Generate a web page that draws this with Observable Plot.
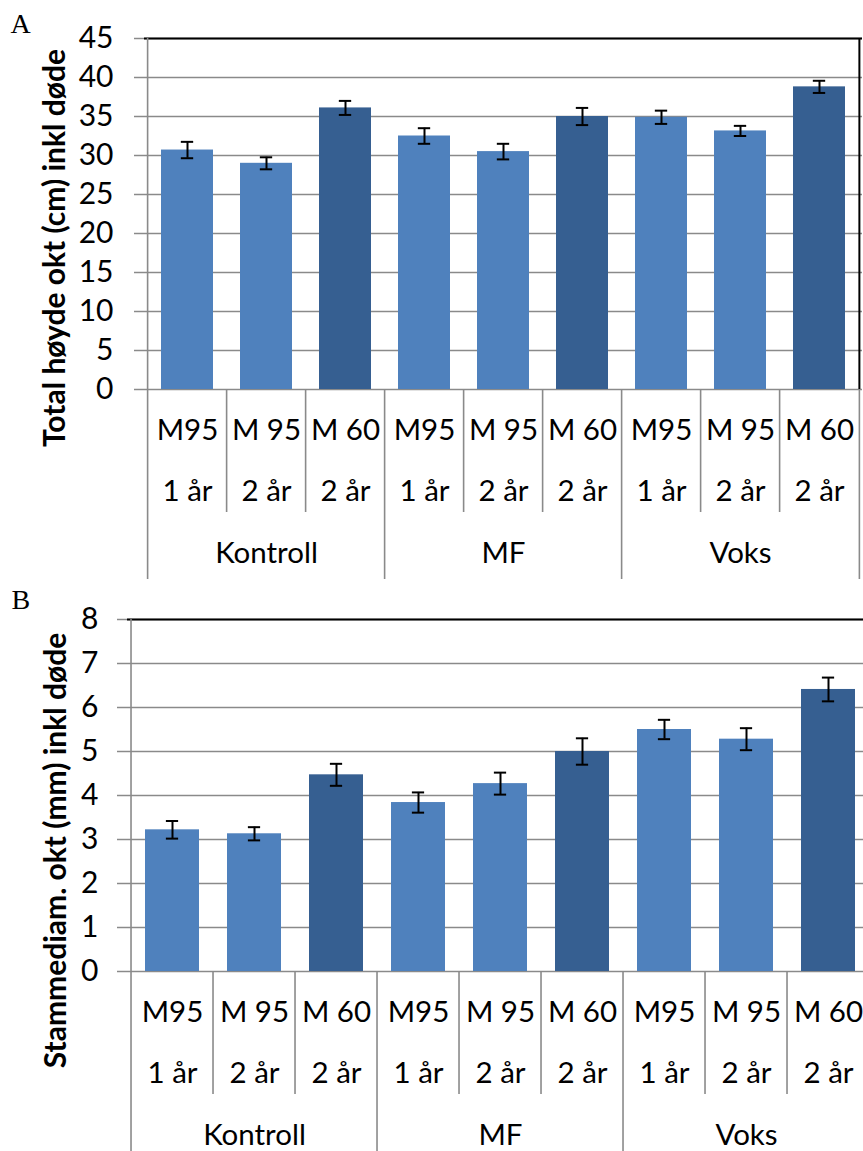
<!DOCTYPE html>
<html><head><meta charset="utf-8">
<script src="https://cdn.jsdelivr.net/npm/d3@7"></script>
<script src="https://cdn.jsdelivr.net/npm/@observablehq/plot@0.6"></script>
<style>
html,body{margin:0;padding:0;background:#fff;overflow:hidden;width:863px;height:1151px}
#wrap{position:relative;width:863px;height:1151px;overflow:hidden}
#wrap svg{position:absolute;left:0;max-width:none !important;}
</style></head><body><div id="wrap"></div>
<script>
// ---- data ----
const groups = ["Kontroll", "MF", "Voks"];
const variety = ["M95", "M 95", "M 60"];
const age = ["1 år", "2 år", "2 år"];

const heightMean = [30.7, 29.0, 36.1, 32.5, 30.5, 35.0, 34.9, 33.15, 38.8];
const heightErr  = [1.05, 0.77, 0.9, 1.0, 1.0, 1.1, 0.85, 0.65, 0.78];

const diamMean = [3.22, 3.13, 4.47, 3.84, 4.27, 5.0, 5.5, 5.28, 6.41];
const diamErr  = [0.2, 0.15, 0.25, 0.23, 0.25, 0.3, 0.22, 0.25, 0.27];

const titleA = "Total høyde okt (cm) inkl døde";
const titleB = "Stammediam. okt (mm) inkl døde";

const LIGHT = "#4f81bd", DARK = "#365f91", GRID = "#8a8a8a";
const FONT = "Lato, 'Open Sans', sans-serif";

function makePanel(cfg) {
  const {means, errs, yMax, yStep, title, width, height, mL, mR, mT, mB,
         tickPad, titleDx, titleDy, letter, letterX, letterY, top} = cfg;
  const plotW = width - mL - mR, plotH = height - mT - mB;
  const step = plotW / 9;
  const pad = 0.34;
  const bw = step * (1 - pad);
  const capInset = (bw - 13) / 2;
  const rows = groups.flatMap((g, gi) => variety.map((v, vi) => ({
    key: g + " " + v + " " + age[vi], group: g, variety: v, age: age[vi], vi,
    mean: means[gi * 3 + vi], err: errs[gi * 3 + vi]
  })));
  const keys = rows.map(d => d.key);
  const ticks = d3.range(0, yMax + yStep / 2, yStep);
  const extMinor = 123, extMajor = 190;

  const svg = Plot.plot({
    width, height, marginLeft: mL, marginRight: mR, marginTop: mT, marginBottom: mB,
    style: {fontFamily: FONT, fontSize: "30px", color: "black", background: "white", overflow: "visible", maxWidth: "none"},
    x: {domain: keys, axis: null, paddingInner: pad, paddingOuter: pad / 2},
    y: {domain: [0, yMax], label: null},
    marks: [
      Plot.ruleY(ticks, {stroke: GRID, strokeWidth: 1.6, insetLeft: -10}),
      Plot.axisY(ticks, {tickSize: 0, tickPadding: tickPad, fontSize: 30, label: null}),
      Plot.barY(rows.filter(d => d.vi !== 2), {x: "key", y: "mean", fill: LIGHT}),
      Plot.barY(rows.filter(d => d.vi === 2), {x: "key", y: "mean", fill: DARK}),
      Plot.ruleX(rows, {x: "key", y1: d => d.mean - d.err, y2: d => d.mean + d.err, stroke: "black", strokeWidth: 2}),
      Plot.tickY(rows, {x: "key", y: d => d.mean + d.err, insetLeft: capInset, insetRight: capInset, stroke: "black", strokeWidth: 2}),
      Plot.tickY(rows, {x: "key", y: d => d.mean - d.err, insetLeft: capInset, insetRight: capInset, stroke: "black", strokeWidth: 2}),
      Plot.ruleY([yMax], {stroke: "black", strokeWidth: 2}),
      Plot.ruleX([keys[8]], {dx: step / 2, stroke: "black", strokeWidth: 2}),
      Plot.ruleX([keys[0]], {dx: -step / 2, stroke: GRID, strokeWidth: 1.6, insetBottom: -extMajor}),
      Plot.ruleX(keys.filter((k, i) => i % 3 !== 0), {dx: -step / 2, stroke: GRID, strokeWidth: 1.6, insetTop: plotH, insetBottom: -extMinor}),
      Plot.ruleX(keys.filter((k, i) => i % 3 === 0 && i > 0), {dx: -step / 2, stroke: GRID, strokeWidth: 1.6, insetTop: plotH, insetBottom: -extMajor}),
      Plot.ruleX([keys[8]], {dx: step / 2, stroke: GRID, strokeWidth: 1.6, insetTop: plotH, insetBottom: -extMajor}),
      Plot.text(rows, {x: "key", text: "variety", frameAnchor: "bottom", dy: 41, lineAnchor: "middle", textAnchor: "middle", fontSize: 29.5}),
      Plot.text(rows, {x: "key", text: "age", frameAnchor: "bottom", dy: 102, lineAnchor: "middle", textAnchor: "middle", fontSize: 29.5}),
      Plot.text(rows.filter(d => d.vi === 1), {x: "key", text: "group", frameAnchor: "bottom", dy: 164, lineAnchor: "middle", textAnchor: "middle", fontSize: 29.5}),
      Plot.text([title], {frameAnchor: "left", rotate: -90, dx: titleDx, dy: titleDy, textAnchor: "middle", lineAnchor: "middle", fontWeight: "bold", fontSize: 30}),
      Plot.text([letter], {frameAnchor: "top-left", dx: letterX - mL, dy: letterY - mT, textAnchor: "start", lineAnchor: "bottom", fontFamily: "'Liberation Serif', 'Times New Roman', serif", fontSize: 28})
    ]
  });
  svg.style.top = top + "px";
  return svg;
}

const wrap = document.getElementById("wrap");
wrap.appendChild(makePanel({
  means: heightMean, errs: heightErr, yMax: 45, yStep: 5, title: titleA,
  width: 863, height: 580, mL: 144, mR: 1, mT: 38, mB: 191,
  tickPad: 31, titleDx: -89, titleDy: 34, letter: "A", letterX: 10, letterY: 32, top: 0
}));
wrap.appendChild(makePanel({
  means: diamMean, errs: diamErr, yMax: 8, yStep: 1, title: titleB,
  width: 876, height: 571, mL: 127, mR: 2.3, mT: 39, mB: 180,
  tickPad: 29, titleDx: -71, titleDy: 55, letter: "B", letterX: 11, letterY: 28, top: 580
}));
</script>
</body></html>
